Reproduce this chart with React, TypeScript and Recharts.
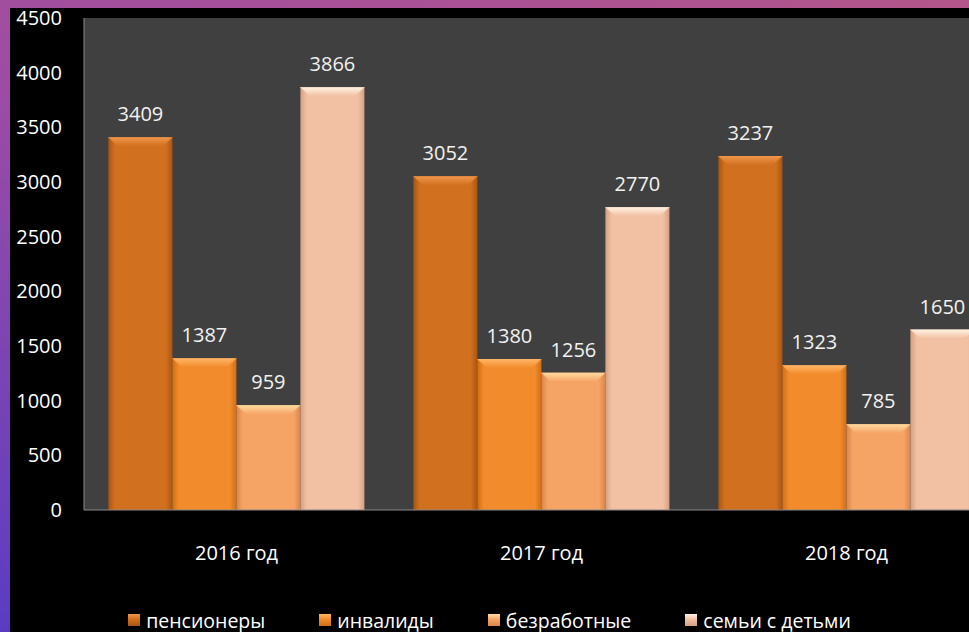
import { BarChart, Bar, XAxis, YAxis, CartesianGrid, LabelList, Legend } from "recharts";

const years = ["2016 год", "2017 год", "2018 год"];
const pensioners = [3409, 3052, 3237];
const disabled = [1387, 1380, 1323];
const unemployed = [959, 1256, 785];
const families = [3866, 2770, 1650];
const yTicks = [0, 500, 1000, 1500, 2000, 2500, 3000, 3500, 4000, 4500];

const seriesNames = ["пенсионеры", "инвалиды", "безработные", "семьи с детьми"];
const seriesKeys = ["pensioners", "disabled", "unemployed", "families"];

// main / side shade / top bevel colours for each series
const palette = [
  { main: "#D1701E", edge: "#A85512", top: "#F0954A" },
  { main: "#F28B2B", edge: "#CF6F17", top: "#FFB566" },
  { main: "#F6A466", edge: "#D9854A", top: "#FFDBA0" },
  { main: "#F2C0A2", edge: "#D4A084", top: "#FFF2E2" },
];

const data = years.map((year, i) => ({
  year,
  pensioners: pensioners[i],
  disabled: disabled[i],
  unemployed: unemployed[i],
  families: families[i],
}));

const font = '"Open Sans", "Noto Sans", sans-serif';

const BevelBar = (props: any) => {
  const { x, y, width, height, idx } = props;
  if (!height || height <= 0) return null;
  const b = Math.min(9, height / 2);
  const c = palette[idx];
  return (
    <g>
      <rect x={x} y={y} width={width} height={height} fill={`url(#body-${idx})`} />
      <polygon
        points={`${x},${y} ${x + width},${y} ${x + width - b},${y + b} ${x + b},${y + b}`}
        fill={`url(#top-${idx})`}
      />
      <line x1={x} y1={y} x2={x + b} y2={y + b} stroke={c.main} strokeWidth={1} />
      <line x1={x + width} y1={y} x2={x + width - b} y2={y + b} stroke={c.main} strokeWidth={1} />
    </g>
  );
};

const LegendContent = () => (
  <div
    style={{
      display: "flex",
      justifyContent: "center",
      alignItems: "center",
      height: 40,
      paddingTop: 16,
      paddingRight: 30,
      boxSizing: "border-box",
      fontFamily: font,
      fontSize: 19.5,
      color: "#fff",
      gap: 54,
    }}
  >
    {seriesNames.map((name, i) => (
      <div key={name} style={{ display: "flex", alignItems: "center", gap: 6 }}>
        <span
          style={{
            display: "inline-block",
            width: 12,
            height: 12,
            background: `linear-gradient(to bottom, ${palette[i].top} 0%, ${palette[i].main} 45%, ${palette[i].edge} 100%)`,
          }}
        />
        <span>{name}</span>
      </div>
    ))}
  </div>
);

export default function App() {
  return (
    <div
      style={{
        position: "fixed",
        left: 0,
        top: 0,
        width: 969,
        height: 632,
        overflow: "hidden",
        background: "linear-gradient(200deg, #b4568a 0%, #9c4ca4 45%, #5a3cc2 100%)",
        fontFamily: font,
      }}
    >
      <svg width={0} height={0} style={{ position: "absolute" }}>
        <defs>
          {palette.map((c, i) => (
            <linearGradient key={`b${i}`} id={`body-${i}`} x1="0" y1="0" x2="1" y2="0">
              <stop offset="0%" stopColor={c.edge} />
              <stop offset="10%" stopColor={c.main} />
              <stop offset="90%" stopColor={c.main} />
              <stop offset="100%" stopColor={c.edge} />
            </linearGradient>
          ))}
          {palette.map((c, i) => (
            <linearGradient key={`t${i}`} id={`top-${i}`} x1="0" y1="0" x2="0" y2="1">
              <stop offset="0%" stopColor={c.top} />
              <stop offset="100%" stopColor={c.main} />
            </linearGradient>
          ))}
        </defs>
      </svg>
      <div
        style={{
          position: "absolute",
          left: 10,
          top: 8,
          width: 959,
          height: 624,
          background: "#000",
        }}
      >
        <BarChart
          width={989}
          height={624}
          data={data}
          margin={{ top: 10, right: 0, left: 0, bottom: 0 }}
          barCategoryGap="8%"
          barGap={0}
          style={{ overflow: "visible" }}
        >
          <CartesianGrid fill="#404040" horizontal={false} vertical={false} />
          <XAxis
            dataKey="year"
            height={82}
            tickLine={false}
            axisLine={{ stroke: "#8a8a8a" }}
            tick={{ fill: "#fff", fontSize: 20 }}
            tickSize={0}
            tickMargin={36}
          />
          <YAxis
            width={74}
            domain={[0, 4500]}
            ticks={yTicks}
            interval={0}
            tickLine={false}
            axisLine={{ stroke: "#8a8a8a" }}
            tick={{ fill: "#fff", fontSize: 20 }}
            tickSize={0}
            tickMargin={22}
          />
          <Legend verticalAlign="bottom" content={<LegendContent />} />
          {seriesKeys.map((key, i) => (
            <Bar
              key={key}
              dataKey={key}
              name={seriesNames[i]}
              fill={palette[i].main}
              isAnimationActive={false}
              shape={(p: any) => <BevelBar {...p} idx={i} />}
            >
              <LabelList dataKey={key} position="top" offset={16} fill="#f2f2f2" fontSize={20} />
            </Bar>
          ))}
        </BarChart>
      </div>
    </div>
  );
}
